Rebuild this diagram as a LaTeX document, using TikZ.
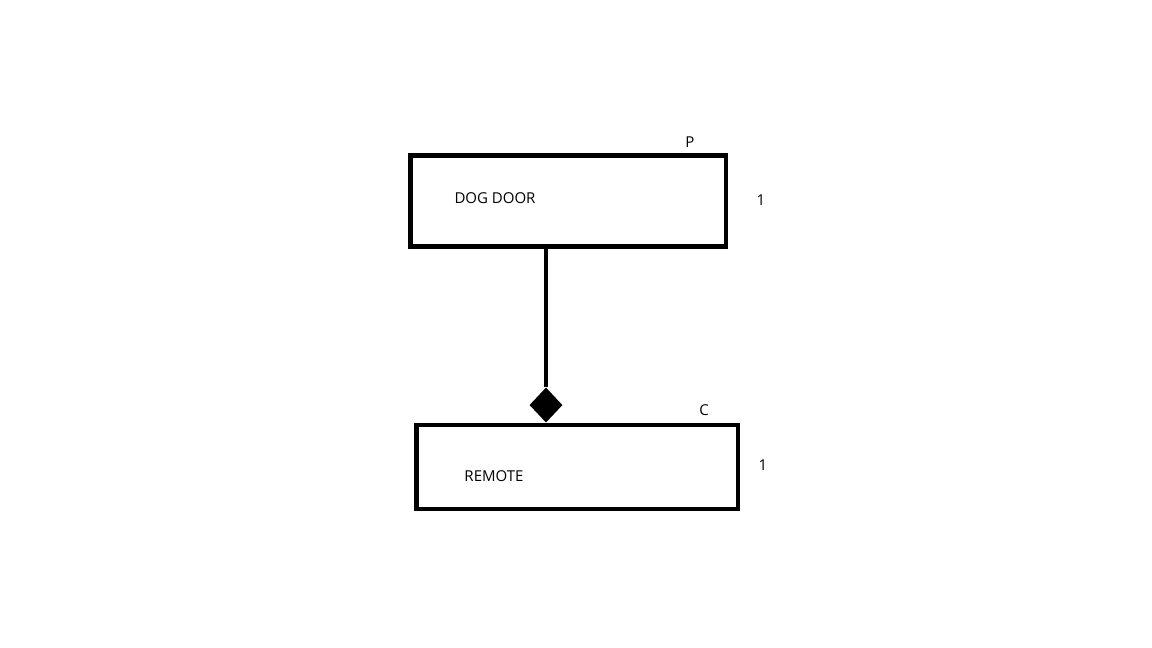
\documentclass[tikz,border=0pt]{standalone}
\usepackage{fontspec}
\setmainfont{Open Sans}
\usetikzlibrary{shapes.geometric}
\begin{document}
\begin{tikzpicture}[x=1pt,y=-1pt,
  classbox/.style={draw=black,line width=4.5pt,minimum width=315.5pt,inner sep=0pt},
  lbl/.style={font=\fontsize{15}{17}\selectfont,inner sep=0pt},
  comp/.style={diamond,fill=black,inner sep=0pt,minimum width=33pt,minimum height=35pt}]
\useasboundingbox (0,0) rectangle (1152,648);
\node[classbox,minimum width=315.5pt,minimum height=91pt] (dogdoor) at (568.25,201) {};
\node[classbox,minimum width=321.5pt,minimum height=84pt] (remote) at (577.25,467) {};
\coordinate (cx) at (546,0);
\node[comp,anchor=south] (dia) at (remote.north -| cx) {};
\draw[line width=4.8pt] (dogdoor.south -| cx) -- (dia.north);
\node[lbl] (t1) at (495,198) {DOG DOOR};
\node[lbl] (t2) at (494,476) {REMOTE};
\node[lbl] (p) at (690,142) {P};
\node[lbl] (c) at (704,410) {C};
\node[lbl] (m1) at (761,200) {1};
\node[lbl] (m2) at (763,465) {1};
\end{tikzpicture}
\end{document}
